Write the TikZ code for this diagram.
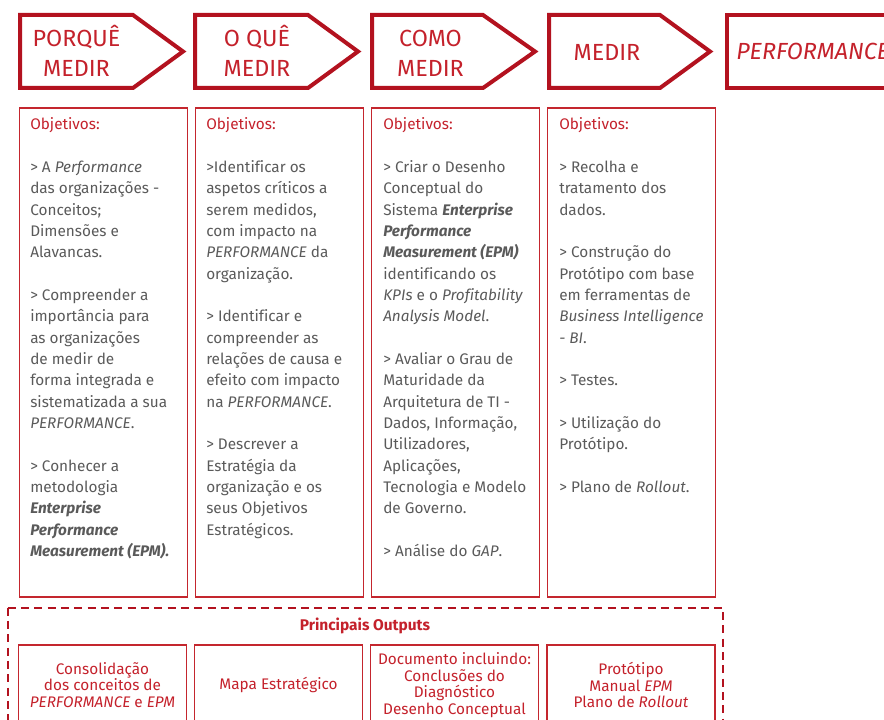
\documentclass[tikz,border=0pt]{standalone}
\usepackage{fontspec}
\setmainfont{Fira Sans}[Ligatures=NoCommon]
\usetikzlibrary{positioning}
\definecolor{setared}{HTML}{B3121F}
\definecolor{caixared}{HTML}{C4262E}
\definecolor{textored}{HTML}{C4212B}
\definecolor{cinza}{HTML}{5A5A5A}
\newcommand{\sep}{\\[16pt]}

\begin{document}
\begin{tikzpicture}[x=0.75pt,y=-0.75pt,
        seta/.style={draw=setared,line width=3pt,line join=miter},
        titulo/.style={text=textored,font=\fontsize{17.5}{22.5}\selectfont,align=center,inner sep=0pt},
        coluna/.style={draw=caixared,line width=1.1pt,minimum width=126pt,minimum height=366.4pt,anchor=north west,inner sep=0pt},
        corpo/.style={text=cinza,font=\fontsize{11.5}{16}\selectfont,align=left,anchor=north west,inner sep=0pt},
        saida/.style={draw=caixared,line width=1.1pt,text=textored,font=\fontsize{11.5}{12.4}\selectfont,align=center,minimum width=126pt,minimum height=60pt,inner sep=0pt}]
        \useasboundingbox (0,0) rectangle (884,720);
        \clip (0,0) rectangle (884,720);

        % etapas
        \foreach \a/\b/\c in {20/133/183, 195/308/358, 372/483/535, 549/660/710}
            \draw[seta] (\a,15) -- (\b,15) -- (\c,51.5) -- (\b,88) -- (\a,88) -- cycle;
        \draw[seta] (727,15) rectangle (900,88);

        \node[titulo] (porque) at (76.5,50.5) {PORQUÊ\\MEDIR};
        \node[titulo] (oque) at (257,50.5) {O QUÊ\\MEDIR};
        \node[titulo] (como) at (430.5,53) {COMO\\MEDIR};
        \node[titulo] (medir) at (607,52) {MEDIR};
        \node[titulo,anchor=west,font=\fontsize{17.5}{22.5}\selectfont\itshape] (perf) at (736,51) {PERFORMANCE};

        % colunas
        \foreach \x [count=\i] in {18.5,194.5,370.5,546.5}
            \node[coluna] (col\i) at (\x,107.5) {};

        \node[corpo] (obj1) at (30,117.5) {{\color{textored}Objetivos:}\sep
            > A \textit{Performance}\\
            das organizações -\\
            Conceitos;\\
            Dimensões e\\
            Alavancas.\sep
            > Compreender a\\
            importância para\\
            as organizações\\
            de medir de\\
            forma integrada e\\
            sistematizada a sua\\
            \textit{PERFORMANCE}.\sep
            > Conhecer a\\
            metodologia\\
            \textbf{\textit{Enterprise}}\\
            \textbf{\textit{Performance}}\\
            \textbf{\textit{Measurement (EPM).}}};

        \node[corpo] (obj2) at (206,117.5) {{\color{textored}Objetivos:}\sep
            >Identificar os\\
            aspetos críticos a\\
            serem medidos,\\
            com impacto na\\
            \textit{PERFORMANCE} da\\
            organização.\sep
            > Identificar e\\
            compreender as\\
            relações de causa e\\
            efeito com impacto\\
            na \textit{PERFORMANCE}.\sep
            > Descrever a\\
            Estratégia da\\
            organização e os\\
            seus Objetivos\\
            Estratégicos.};

        \node[corpo] (obj3) at (383,117.5) {{\color{textored}Objetivos:}\sep
            > Criar o Desenho\\
            Conceptual do\\
            Sistema \textbf{\textit{Enterprise}}\\
            \textbf{\textit{Performance}}\\
            \textbf{\textit{Measurement (EPM)}}\\
            identificando os\\
            \textit{KPIs} e o \textit{Profitability}\\
            \textit{Analysis Model}.\sep
            > Avaliar o Grau de\\
            Maturidade da\\
            Arquitetura de TI -\\
            Dados, Informação,\\
            Utilizadores,\\
            Aplicações,\\
            Tecnologia e Modelo\\
            de Governo.\sep
            > Análise do \textit{GAP}.};

        \node[corpo] (obj4) at (559,117.5) {{\color{textored}Objetivos:}\sep
            > Recolha e\\
            tratamento dos\\
            dados.\sep
            > Construção do\\
            Protótipo com base\\
            em ferramentas de\\
            \textit{Business Intelligence}\\
            \textit{- BI}.\sep
            > Testes.\sep
            > Utilização do\\
            Protótipo.\sep
            > Plano de \textit{Rollout}.};

        % outputs
        \draw[draw=setared,line width=1.5pt,dash pattern=on 6pt off 4pt] (7.5,607.5) -- (723,607.5) -- (723,760) (7.5,607.5) -- (7.5,760);
        \node[text=textored,font=\fontsize{11.6}{12}\selectfont\bfseries] (princ) at (365,626) {Principais Outputs};

        \node[saida] (out1) at (102.5,685) {Consolidação\\dos conceitos de\\\textit{PERFORMANCE} e \textit{EPM}};
        \node[saida] (out2) at (278.5,685) {Mapa Estratégico};
        \node[saida] (out3) at (454.5,685) {Documento incluindo:\\Conclusões do\\Diagnóstico\\Desenho Conceptual};
        \node[saida] (out4) at (631,685) {Protótipo\\Manual \textit{EPM}\\Plano de \textit{Rollout}};
\end{tikzpicture}
\end{document}
